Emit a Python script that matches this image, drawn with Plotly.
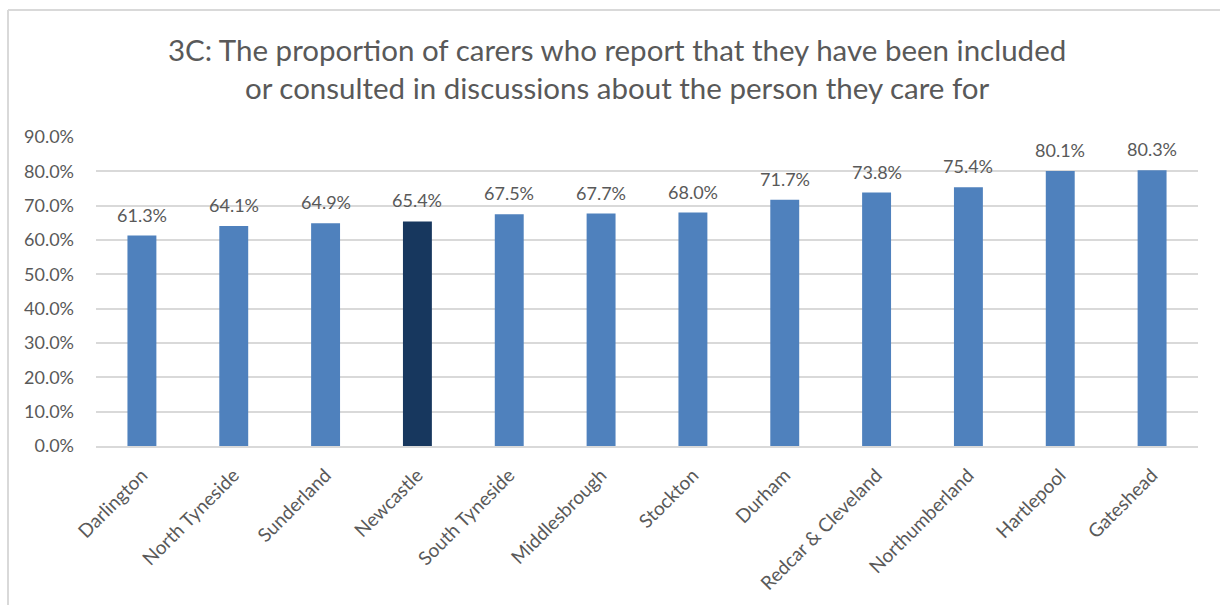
import plotly.graph_objects as go

# Local authority results, sorted ascending
areas = ["Darlington", "North Tyneside", "Sunderland", "Newcastle", "South Tyneside",
         "Middlesbrough", "Stockton", "Durham", "Redcar & Cleveland", "Northumberland",
         "Hartlepool", "Gateshead"]
values = [61.3, 64.1, 64.9, 65.4, 67.5, 67.7, 68.0, 71.7, 73.8, 75.4, 80.1, 80.3]
highlight = "Newcastle"

y_ticks = [0, 10, 20, 30, 40, 50, 60, 70, 80, 90]
y_tick_labels = [f"{t:.1f}%" for t in y_ticks]

title_text = ("3C: The proportion of carers who report that they have been included<br>"
              "or consulted in discussions about the person they care for")

BASE = "#4F81BD"
DARK = "#17375E"
TEXT = "#595959"
GRID = "#D9D9D9"
FONT = "Lato"

W, H = 1220, 605
ML, MR, MT, MB = 96, 22, 137, 159
pw, ph = W - ML - MR, H - MT - MB

colors = [DARK if a == highlight else BASE for a in areas]

fig = go.Figure(go.Bar(
    x=areas,
    y=values,
    marker=dict(color=colors, line=dict(width=0)),
    width=0.315,
    hoverinfo="skip",
))

# Value labels above each bar
for a, v in zip(areas, values):
    fig.add_annotation(x=a, y=v, text=f"{v:.1f}%", showarrow=False,
                       xanchor="center", yanchor="bottom", yshift=8,
                       font=dict(family=FONT, size=18, color=TEXT))

# Chart frame: light border along the top and left edges
def px_to_paper_x(px):
    return (px - ML) / pw

def px_to_paper_y(py):
    return (H - MB - py) / ph

fig.add_shape(type="line", xref="paper", yref="paper",
              x0=px_to_paper_x(8), x1=px_to_paper_x(W + 5),
              y0=px_to_paper_y(10), y1=px_to_paper_y(10),
              line=dict(color=GRID, width=2))
fig.add_shape(type="line", xref="paper", yref="paper",
              x0=px_to_paper_x(8), x1=px_to_paper_x(8),
              y0=px_to_paper_y(10), y1=px_to_paper_y(H + 5),
              line=dict(color=GRID, width=2))

fig.add_annotation(text=title_text, xref="paper", yref="paper",
                   x=px_to_paper_x(617), y=px_to_paper_y(68),
                   xanchor="center", yanchor="middle", showarrow=False,
                   font=dict(family=FONT, size=29.5, color=TEXT), align="center")

fig.update_layout(
    width=W, height=H,
    margin=dict(l=ML, r=MR, t=MT, b=MB, pad=0),
    paper_bgcolor="white", plot_bgcolor="white",
    showlegend=False,
    font=dict(family=FONT, color=TEXT),
)
fig.update_xaxes(
    tickangle=-45, tickfont=dict(family=FONT, size=19, color=TEXT),
    showline=True, linecolor=GRID, linewidth=1.5,
    ticks="", showgrid=False, ticklabelstandoff=9,
)
fig.update_yaxes(
    range=[0, 90], tickvals=y_ticks, ticktext=y_tick_labels,
    tickfont=dict(family=FONT, size=18, color=TEXT),
    showgrid=True, gridcolor=GRID, gridwidth=1.5,
    zeroline=False, showline=False, ticks="", ticklabelstandoff=21,
)

fig.write_html("out.html")
